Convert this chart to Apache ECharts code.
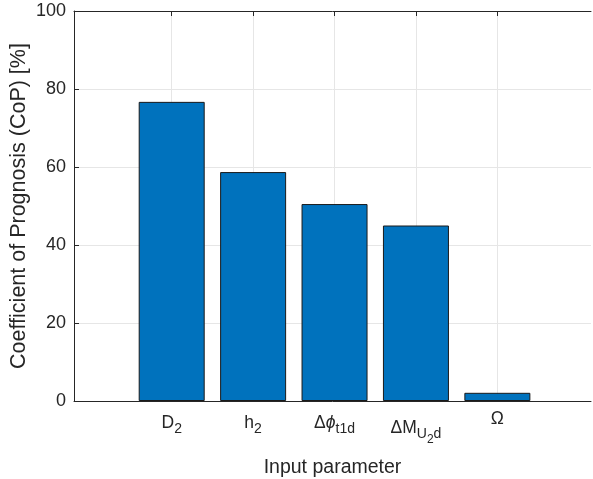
<!DOCTYPE html>
<html>
<head>
<meta charset="utf-8">
<script src="https://cdn.jsdelivr.net/npm/echarts@6/dist/echarts.min.js"></script>
<style>
  html, body { margin: 0; padding: 0; background: #fff; }
  #chart { width: 593px; height: 479px; }
</style>
</head>
<body>
<div id="chart"></div>
<script>
  // data
  const paramPos = [1, 2, 3, 4, 5]
  const paramLabels = [
    '{n|D}{s|2}',
    '{n|h}{s|2}',
    '{n|Δ}{i|ϕ}{s|t1d}',
    '{n|ΔM}{s|U}{ss|2}{s|d}',
    '{n|Ω}'
  ]
  const copValues = [76.7, 58.7, 50.5, 45.0, 2.1]
  const yTicks = [0, 20, 40, 60, 80, 100]

  const font = 'Liberation Sans, Arial, Helvetica, sans-serif'
  const axisColor = '#262626'

  const chart = echarts.init(document.getElementById('chart'), null, { renderer: 'canvas' })

  const barData = paramPos.map(function(p, i) {
    return [p, copValues[i]]
  })

  chart.setOption({
    animation: false,
    backgroundColor: '#fff',
    grid: {
      left: 74,
      right: 2,
      top: 11,
      bottom: 78,
      containLabel: false,
      outerBoundsMode: 'none'
    },
    xAxis: [{
      type: 'value',
      min: -0.2,
      max: 6.15,
      position: 'bottom',
      name: 'Input parameter',
      nameLocation: 'middle',
      nameGap: 57,
      nameMoveOverlap: false,
      nameTextStyle: { fontFamily: font, fontSize: 19.5, color: axisColor },
      axisLine: { show: true, onZero: false, lineStyle: { color: axisColor, width: 1 } },
      axisTick: {
        show: true, inside: true, length: 5,
        customValues: paramPos,
        lineStyle: { color: axisColor }
      },
      axisLabel: {
        customValues: paramPos,
        margin: 9,
        formatter: function(v) {
          return paramLabels[paramPos.indexOf(v)]
        },
        rich: {
          n: { fontFamily: font, fontSize: 17.5, color: axisColor },
          i: { fontFamily: font, fontSize: 17.5, fontStyle: 'italic', color: axisColor },
          s: { fontFamily: font, fontSize: 14, color: axisColor, padding: [12, 0, 0, 0] },
          ss: { fontFamily: font, fontSize: 12, color: axisColor, padding: [24, 0, 0, 0] }
        }
      },
      splitLine: { show: true, lineStyle: { color: '#e6e6e6', width: 1 } }
    }, {
      // top edge of the box
      type: 'value',
      min: -0.2,
      max: 6.15,
      position: 'top',
      axisLine: { show: true, onZero: false, lineStyle: { color: axisColor, width: 1 } },
      axisTick: {
        show: true, inside: true, length: 5,
        customValues: paramPos,
        lineStyle: { color: axisColor }
      },
      axisLabel: { show: false },
      splitLine: { show: false }
    }],
    yAxis: {
      type: 'value',
      min: 0,
      max: 100,
      interval: 20,
      name: 'Coefficient of Prognosis (CoP) [%]',
      nameLocation: 'middle',
      nameGap: 44,
      nameMoveOverlap: false,
      nameTextStyle: { fontFamily: font, fontSize: 21.5, color: axisColor },
      axisLine: { show: true, onZero: false, lineStyle: { color: axisColor, width: 1 } },
      axisTick: { show: true, inside: true, length: 5, lineStyle: { color: axisColor } },
      axisLabel: {
        formatter: function(v) { return yTicks.indexOf(v) >= 0 ? String(v) : '' },
        fontFamily: font, fontSize: 18, color: axisColor, margin: 8
      },
      splitLine: { show: true, lineStyle: { color: '#e6e6e6', width: 1 } }
    },
    series: [{
      type: 'bar',
      xAxisIndex: 0,
      data: barData,
      barWidth: 66,
      itemStyle: { color: '#0072BD', borderColor: '#1a1a1a', borderWidth: 1 }
    }]
  })
</script>
</body>
</html>
